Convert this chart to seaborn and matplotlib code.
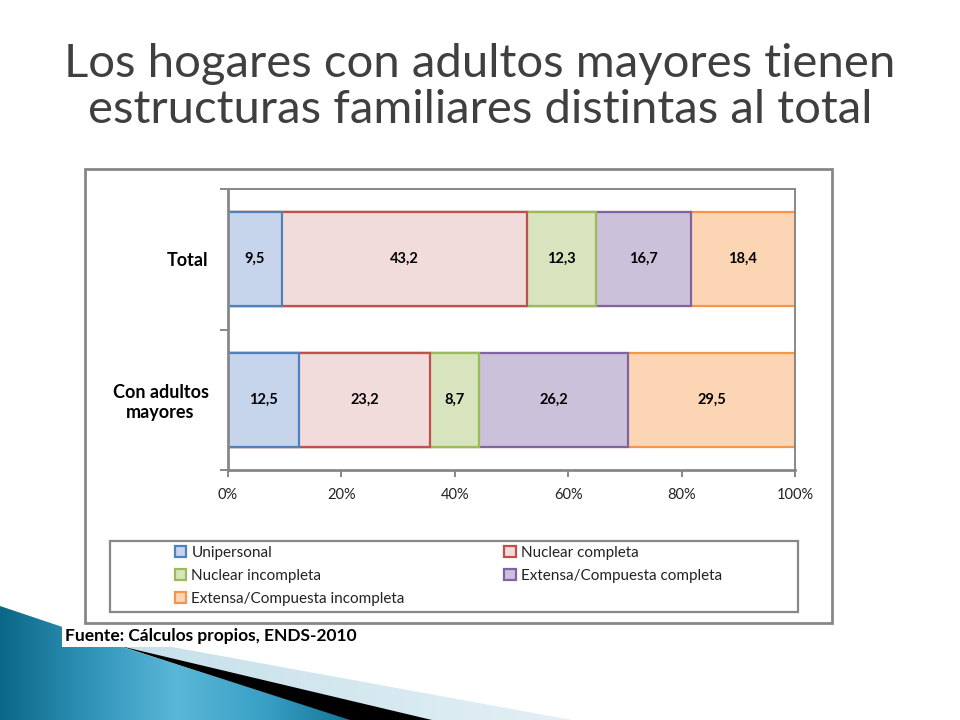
import numpy as np
import pandas as pd
import seaborn as sns
import matplotlib.pyplot as plt
from matplotlib.patches import Rectangle, Polygon, Patch
from matplotlib.colors import LinearSegmentedColormap
from matplotlib.ticker import FixedLocator

# datos (ENDS-2010)
categorias = ["Total", "Con adultos\nmayores"]
tipos = ["Unipersonal", "Nuclear completa", "Nuclear incompleta",
         "Extensa/Compuesta completa", "Extensa/Compuesta incompleta"]
total = [9.5, 43.2, 12.3, 16.7, 18.4]
con_adultos = [12.5, 23.2, 8.7, 26.2, 29.5]
ticks_x = [0, 20, 40, 60, 80, 100]

rellenos = ["#c6d5ec", "#f2dcdb", "#d7e4bd", "#ccc1da", "#fcd5b5"]
bordes = ["#4f81bd", "#c0504d", "#9bbb59", "#8064a2", "#f79646"]

sns.set_theme(style="white")
plt.rcParams['font.family'] = ['Lato', 'DejaVu Sans']

df = pd.DataFrame({categorias[0]: total, categorias[1]: con_adultos}, index=tipos)
pct = df / df.sum() * 100
acum = pct.cumsum()

fig = plt.figure(figsize=(9.6, 7.2), dpi=100)
fig.patch.set_facecolor("white")

# fondo: decoracion de la diapositiva, en pixeles
bg = fig.add_axes([0, 0, 1, 1], zorder=0)
bg.set_xlim(0, 960)
bg.set_ylim(720, 0)
bg.axis("off")

def degradado(poly_pts, colores, x0, x1):
    cmap = LinearSegmentedColormap.from_list("g", colores)
    grad = np.linspace(0, 1, 256).reshape(1, -1)
    im = bg.imshow(grad, cmap=cmap, extent=[x0, x1, 720, 580], aspect="auto", zorder=1)
    poly = Polygon(poly_pts, closed=True, facecolor="none", edgecolor="none")
    bg.add_patch(poly)
    im.set_clip_path(poly)

degradado([(90, 632), (572, 720), (430, 720), (122, 647)],
          ["#c4dfea", "#d3e7ef", "#e3f0f5"], 90, 572)
bg.add_patch(Polygon([(120, 646), (432, 720), (350, 720)], closed=True,
                     facecolor="black", edgecolor="none", zorder=2))
degradado([(0, 606), (122, 647), (352, 720), (0, 720)],
          ["#0b6787", "#2f93b8", "#5ab7d8", "#3aa0c6", "#137596"], 0, 352)

# marco del grafico
bg.add_patch(Rectangle((85, 169), 747, 454, facecolor="white",
                       edgecolor="#878787", linewidth=2, zorder=3))
# marco de la leyenda
bg.add_patch(Rectangle((110, 541), 688, 71, facecolor="white",
                       edgecolor="#878787", linewidth=1.6, zorder=4))

bg.text(480, 64, "Los hogares con adultos mayores tienen", ha="center", va="center",
        fontsize=34, color="#3f3f3f", zorder=5)
bg.text(480, 110, "estructuras familiares distintas al total", ha="center", va="center",
        fontsize=34, color="#3f3f3f", zorder=5)

bg.text(65, 636, "Fuente: Cálculos propios, ENDS-2010", ha="left", va="center",
        fontsize=12.5, fontweight="bold", color="black", zorder=6,
        bbox=dict(facecolor="white", edgecolor="none", pad=2.5))

# grafico de barras apiladas
ax = fig.add_axes([228 / 960, 1 - 470 / 720, 567 / 960, 281 / 720], zorder=2)
ax.set_facecolor("white")
for i in reversed(range(len(tipos))):
    sns.barplot(x=acum.iloc[i].values, y=categorias, orient="h",
                color=rellenos[i], edgecolor=bordes[i], linewidth=1.6,
                width=0.67, saturation=1, ax=ax)

for i in range(len(tipos)):
    for j, cat in enumerate(categorias):
        xc = acum.iloc[i, j] - pct.iloc[i, j] / 2
        etiqueta = f"{df.iloc[i, j]:.1f}".replace(".", ",")
        ax.text(xc, j, etiqueta, ha="center", va="center",
                fontsize=10.5, fontweight="bold", color="black")

ax.set_xlim(0, 100)
ax.set_ylim(1.5, -0.5)
ax.set_xticks(ticks_x)
ax.set_xticklabels([f"{t}%" for t in ticks_x])
ax.set_yticks(range(len(categorias)))
ax.set_yticklabels(categorias, fontweight="bold", fontsize=13)
for lab in ax.get_yticklabels():
    lab.set_multialignment("center")
ax.yaxis.set_minor_locator(FixedLocator([-0.5, 0.5, 1.5]))
ax.set_xlabel("")
ax.set_ylabel("")

for s in ax.spines.values():
    s.set_color("#878787")
    s.set_linewidth(1.4)
ax.spines["left"].set_linewidth(2)
ax.spines["bottom"].set_linewidth(2)

ax.tick_params(axis="x", direction="out", length=5, width=1.4, color="#878787",
               labelsize=10.5, labelcolor="#222222", pad=8, bottom=True)
ax.tick_params(axis="y", which="major", length=0, pad=14, labelcolor="black")
ax.tick_params(axis="y", which="minor", direction="out", length=6, width=1.4,
               color="#878787", left=True)

# leyenda
orden = [0, 2, 4, 1, 3]
handles = [Patch(facecolor=rellenos[k], edgecolor=bordes[k], linewidth=1.6) for k in orden]
labels = [tipos[k] for k in orden]
fig.legend(handles, labels, ncol=2, frameon=False,
           loc="upper left", bbox_to_anchor=(164 / 960, 1 - 535 / 720),
           fontsize=11, handlelength=0.75, handleheight=0.75, handletextpad=0.35,
           labelspacing=0.6, columnspacing=6.5, borderpad=0.2,
           labelcolor="#222222")

fig.savefig("out.png", dpi=100)
